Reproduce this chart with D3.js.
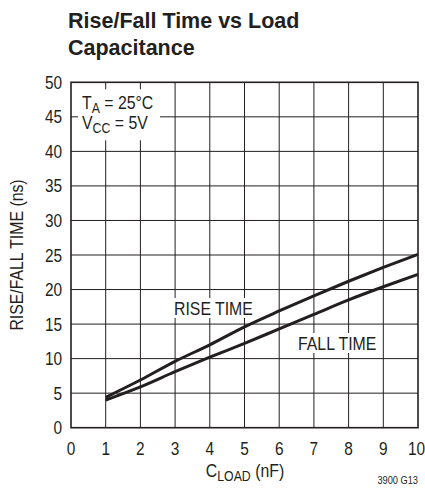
<!DOCTYPE html>
<html>
<head>
<meta charset="utf-8">
<script src="https://cdn.jsdelivr.net/npm/d3@7"></script>
<style>
  body { margin: 0; background: #fff; }
  svg text { font-family: "Liberation Sans", Arial, sans-serif; fill: #231f20; }
</style>
</head>
<body>
<div id="chart"></div>
<script>
// load capacitance (nF)
var cload = [1, 2, 3, 4, 5, 6, 7, 8, 9, 10];
// rise and fall time (ns)
var riseTime = [4.4, 6.9, 9.6, 12.0, 14.6, 16.9, 19.1, 21.2, 23.2, 25.1];
var fallTime = [4.0, 5.9, 8.1, 10.2, 12.2, 14.3, 16.4, 18.5, 20.4, 22.2];
var xTicks = [0, 1, 2, 3, 4, 5, 6, 7, 8, 9, 10];
var yTicks = [0, 5, 10, 15, 20, 25, 30, 35, 40, 45, 50];

var width = 425, height = 489;
var margin = {left: 71, right: 7, top: 82.3, bottom: 61.3};
var squeeze = 0.88; // no condensed font here, so narrow the text by hand

var svg = d3.select("#chart").append("svg")
    .attr("width", width)
    .attr("height", height);

var x = d3.scaleLinear().domain([0, 10]).range([margin.left, width - margin.right]);
var y = d3.scaleLinear().domain([0, 50]).range([height - margin.bottom, margin.top]);

// text placed at (tx, ty), squeezed sideways
function label(tx, ty, anchor, size, rot) {
  return svg.append("text")
    .attr("transform", "translate(" + tx + "," + ty + ")" + (rot ? " rotate(" + rot + ")" : "") + " scale(" + squeeze + ",1)")
    .attr("text-anchor", anchor)
    .style("font-size", size + "px");
}

// title
var title = svg.append("text")
    .style("font-size", "21.5px")
    .style("font-weight", "bold");
title.append("tspan").attr("x", 68).attr("y", 28).text("Rise/Fall Time vs Load");
title.append("tspan").attr("x", 68).attr("y", 55).text("Capacitance");

// grid
var grid = svg.append("g").attr("stroke", "#231f20").attr("stroke-width", 1);
grid.selectAll(".vx")
    .data(xTicks.slice(1, -1))
  .enter().append("line")
    .attr("x1", function(d) { return x(d); })
    .attr("x2", function(d) { return x(d); })
    .attr("y1", y(0))
    .attr("y2", y(50));
grid.selectAll(".hy")
    .data(yTicks.slice(1, -1))
  .enter().append("line")
    .attr("x1", x(0))
    .attr("x2", x(10))
    .attr("y1", function(d) { return y(d); })
    .attr("y2", function(d) { return y(d); });

// white patches behind the labels inside the plot
function patch(x0, y0, w, h) {
  svg.append("rect").attr("x", x0).attr("y", y0).attr("width", w).attr("height", h).attr("fill", "#fff");
}
patch(x(0), y(50), 89, 58);
patch(172, 298, 81, 20);
patch(296, 333, 84, 20);

// small inward ticks where the patch hides the grid
var ticks = svg.append("g").attr("stroke", "#231f20").attr("stroke-width", 1);
ticks.selectAll(".tt")
    .data([1, 2])
  .enter().append("line")
    .attr("x1", function(d) { return x(d); })
    .attr("x2", function(d) { return x(d); })
    .attr("y1", y(50))
    .attr("y2", y(50) + 7);
ticks.append("line")
    .attr("x1", x(0)).attr("x2", x(0) + 7)
    .attr("y1", y(45)).attr("y2", y(45));

// frame
svg.append("rect")
    .attr("x", x(0))
    .attr("y", y(50))
    .attr("width", x(10) - x(0))
    .attr("height", y(0) - y(50))
    .attr("fill", "none")
    .attr("stroke", "#231f20")
    .attr("stroke-width", 1.6);

// curves
var line = d3.line()
    .x(function(d, i) { return x(cload[i]); })
    .y(function(d) { return y(d); })
    .curve(d3.curveMonotoneX);

[riseTime, fallTime].forEach(function(series) {
  svg.append("path")
    .datum(series)
    .attr("d", line)
    .attr("fill", "none")
    .attr("stroke", "#231f20")
    .attr("stroke-width", 3);
});

// axis tick labels
xTicks.forEach(function(d) {
  label(x(d) - (d === 10 ? 1.5 : 0), y(0) + 27, "middle", 17.5).text(d);
});
yTicks.forEach(function(d) {
  label(62, y(d) + 6.5, "end", 17.5).text(d);
});

// axis titles
var xt = label(245, 477, "middle", 18);
xt.append("tspan").text("C");
xt.append("tspan").attr("dy", 4).style("font-size", "14px").text("LOAD");
xt.append("tspan").attr("dy", -4).text(" (nF)");

label(23, y(25), "middle", 18, -90).text("RISE/FALL TIME (ns)");

label(418, 484, "end", 10.5).text("3900 G13");

// conditions
var ta = label(82, 109, "start", 18);
ta.append("tspan").text("T");
ta.append("tspan").attr("dy", 4).style("font-size", "14px").text("A");
ta.append("tspan").attr("dy", -4).text(" = 25°C");
var vcc = label(82, 129, "start", 18);
vcc.append("tspan").text("V");
vcc.append("tspan").attr("dy", 4).style("font-size", "14px").text("CC");
vcc.append("tspan").attr("dy", -4).text(" = 5V");

// curve labels
label(174, 315, "start", 18).text("RISE TIME");
label(298, 350, "start", 18).text("FALL TIME");
</script>
</body>
</html>
